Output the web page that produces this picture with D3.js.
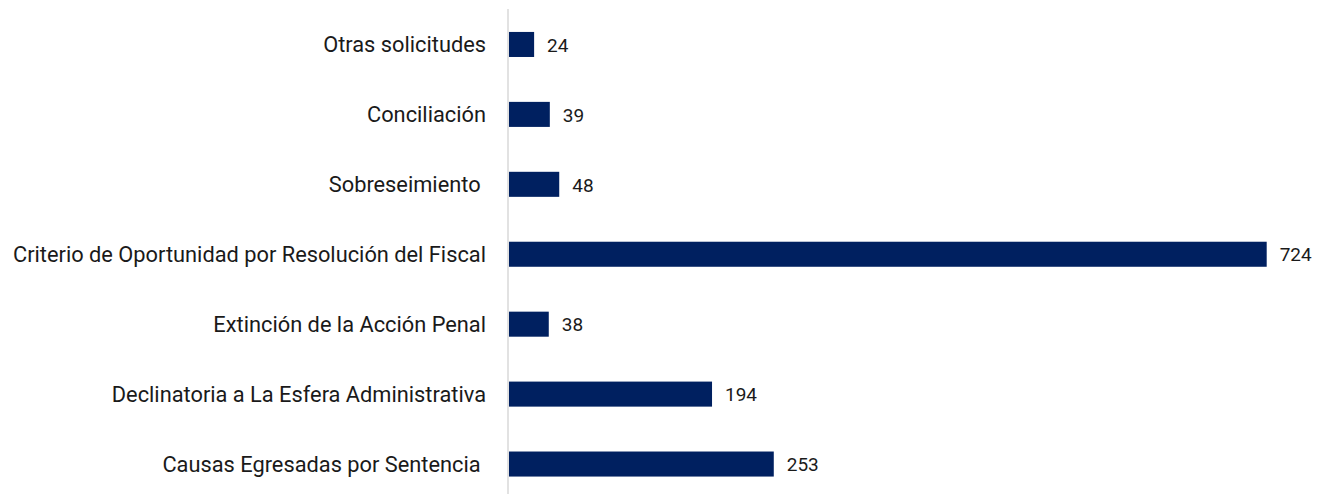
<!DOCTYPE html>
<html>
<head>
<meta charset="utf-8">
<script src="https://cdn.jsdelivr.net/npm/d3@7"></script>
<style>
  body { margin: 0; background: #fff; }
  svg text { white-space: pre; }
</style>
</head>
<body>
<div id="chart"></div>
<script>
// categories, top to bottom
const categories = [
    "Otras solicitudes",
    "Conciliación",
    "Sobreseimiento ",
    "Criterio de Oportunidad por Resolución del Fiscal",
    "Extinción de la Acción Penal",
    "Declinatoria a La Esfera Administrativa",
    "Causas Egresadas por Sentencia "
];
const values = [24, 39, 48, 724, 38, 194, 253];

const width = 1324, height = 494;
const x0 = 509;

const svg = d3.select("#chart").append("svg")
    .attr("width", width)
    .attr("height", height);

const x = d3.scaleLinear()
    .domain([0, 724])
    .range([x0, 1266.7]);

const y = d3.scaleBand()
    .domain(categories)
    .range([9.5, 499])
    .paddingInner(0.642)
    .paddingOuter(0.321);

// bars
svg.selectAll("rect.bar")
    .data(values)
    .join("rect")
    .attr("class", "bar")
    .attr("x", x(0))
    .attr("y", (d, i) => y(categories[i]))
    .attr("width", d => x(d) - x(0))
    .attr("height", y.bandwidth())
    .attr("fill", "#002060");

// vertical axis line
svg.append("line")
    .attr("x1", x0 - 1).attr("x2", x0 - 1)
    .attr("y1", 9).attr("y2", height)
    .attr("stroke", "#d9d9d9")
    .attr("stroke-width", 1.5);

// category labels
svg.selectAll("text.cat")
    .data(categories)
    .join("text")
    .attr("class", "cat")
    .attr("x", 486)
    .attr("y", d => y(d) + y.bandwidth() / 2)
    .attr("dy", "0.35em")
    .attr("text-anchor", "end")
    .style("font-family", "Roboto, sans-serif")
    .style("font-size", "21.8px")
    .style("fill", "#1a1a1a")
    .text(d => d);

// value labels
svg.selectAll("text.val")
    .data(values)
    .join("text")
    .attr("class", "val")
    .attr("x", d => x(d) + 13)
    .attr("y", (d, i) => y(categories[i]) + y.bandwidth() / 2)
    .attr("dy", "0.38em")
    .style("font-family", "Roboto, sans-serif")
    .style("font-size", "19px")
    .style("fill", "#1a1a1a")
    .text(d => d);
</script>
</body>
</html>
